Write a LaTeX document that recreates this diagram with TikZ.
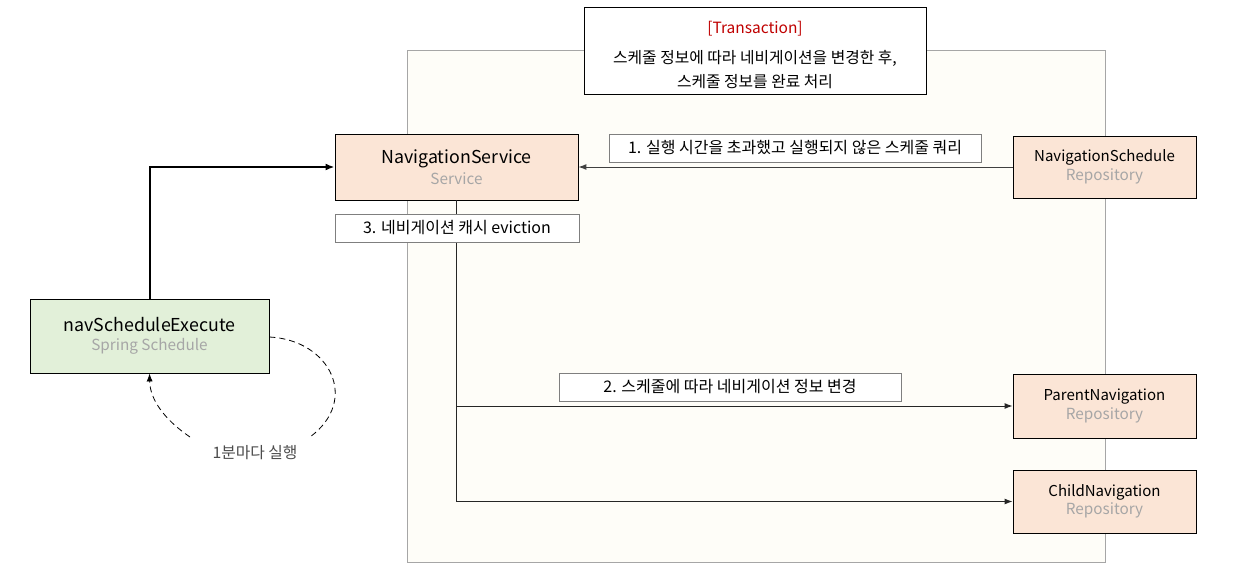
\documentclass[tikz,border=0pt]{standalone}
\usepackage{fontspec}
\setmainfont{Noto Sans CJK KR}
\usetikzlibrary{arrows.meta}
\definecolor{peach}{HTML}{FBE5D6}
\definecolor{leaf}{HTML}{E2F0D9}
\definecolor{cream}{HTML}{FEFDF8}
\definecolor{framegray}{HTML}{A6A6A6}
\definecolor{subgray}{HTML}{A6A6A6}
\definecolor{txred}{HTML}{C00000}
\definecolor{lblgray}{HTML}{7F7F7F}
\newcommand{\ttlsub}[5]{{\fontsize{#1}{#1}\selectfont #3}\\[#5]{\fontsize{#2}{#2}\selectfont\color{subgray}#4}}
\tikzset{
  comp/.style={draw=black, line width=0.9pt, align=center, inner sep=0pt},
  svcbox/.style={comp, fill=peach},
  runbox/.style={comp, fill=leaf},
  lblbox/.style={draw=lblgray, line width=0.6pt, fill=white, inner sep=0pt, font=\fontsize{16}{18}\selectfont},
  flow/.style={line width=1pt, draw=black!85, -{Latex[length=8pt,width=6pt]}},
}
\begin{document}
\begin{tikzpicture}[x=1pt,y=-1pt]
\useasboundingbox[fill=white] (0,0) rectangle (1235,584);
% container
\node[draw=framegray, fill=cream, line width=0.8pt, minimum width=698pt, minimum height=512pt, inner sep=0pt] (frame) at (756,306) {};
% transaction box
\node[draw=black, fill=white, line width=0.9pt, minimum width=342pt, minimum height=87pt, inner sep=0pt, align=center] (tx) at (755,50.5)
  {\rule{0pt}{22pt}{\fontsize{15.5}{16}\selectfont\color{txred}[Transaction]}\\[13pt]{\fontsize{15.8}{16}\selectfont 스케줄 정보에 따라 네비게이션을 변경한 후,}\\[7pt]{\fontsize{15.8}{16}\selectfont 스케줄 정보를 완료 처리}};
% components
\node[svcbox, minimum width=243pt, minimum height=66pt] (svc) at (456.5,167) {\ttlsub{17.8}{15.3}{NavigationService}{Service}{4pt}};
\node[svcbox, minimum width=183pt, minimum height=62pt] (sched) at (1104.5,167) {\ttlsub{15}{15.3}{NavigationSchedule}{Repository}{2pt}};
\node[svcbox, minimum width=183pt, minimum height=64pt] (parent) at (1104.5,406) {\ttlsub{15}{15.3}{ParentNavigation}{Repository}{2pt}};
\node[svcbox, minimum width=183pt, minimum height=63pt] (child) at (1104.5,501.5) {\ttlsub{15}{15.3}{ChildNavigation}{Repository}{2pt}};
\node[runbox, minimum width=239pt, minimum height=74pt] (exec) at (149.5,336) {\ttlsub{17.8}{15.3}{navScheduleExecute}{Spring Schedule}{6pt}};
% connectors
\draw[line width=2pt, -{Latex[length=9pt,width=7pt]}] (exec.north) |- (svc.west);
\draw[flow, draw=black!75] (sched.west) -- (svc.east |- sched.west);
\draw[flow] (svc.south) |- (parent.west);
\draw[flow] (svc.south) |- (child.west);
% self loop
\coordinate (loopa) at (exec.east |- 0,337);
\coordinate (loopb) at (310,437);
\coordinate (loopc) at (190,437);
\node[font=\fontsize{15.8}{18}\selectfont, text=black!70, inner sep=1pt] (every) at (255,453) {1분마다 실행};
\draw[dash pattern=on 6pt off 4pt, line width=0.8pt] (loopa) .. controls (330,340) and (360,400) .. (loopb);
\draw[dash pattern=on 6pt off 4pt, line width=0.8pt, -{Latex[length=8pt,width=6pt]}] (loopc) .. controls (165,420) and (150,400) .. (exec.south);
% labels
\node[lblbox, minimum width=372pt, minimum height=28pt] (l1) at (795,148) {1. 실행 시간을 초과했고 실행되지 않은 스케줄 쿼리};
\node[lblbox, minimum width=342pt, minimum height=28pt] (l2) at (730,387) {2. 스케줄에 따라 네비게이션 정보 변경};
\node[lblbox, minimum width=244pt, minimum height=28pt] (l3) at (457,228) {3. 네비게이션 캐시 eviction};
\end{tikzpicture}
\end{document}
